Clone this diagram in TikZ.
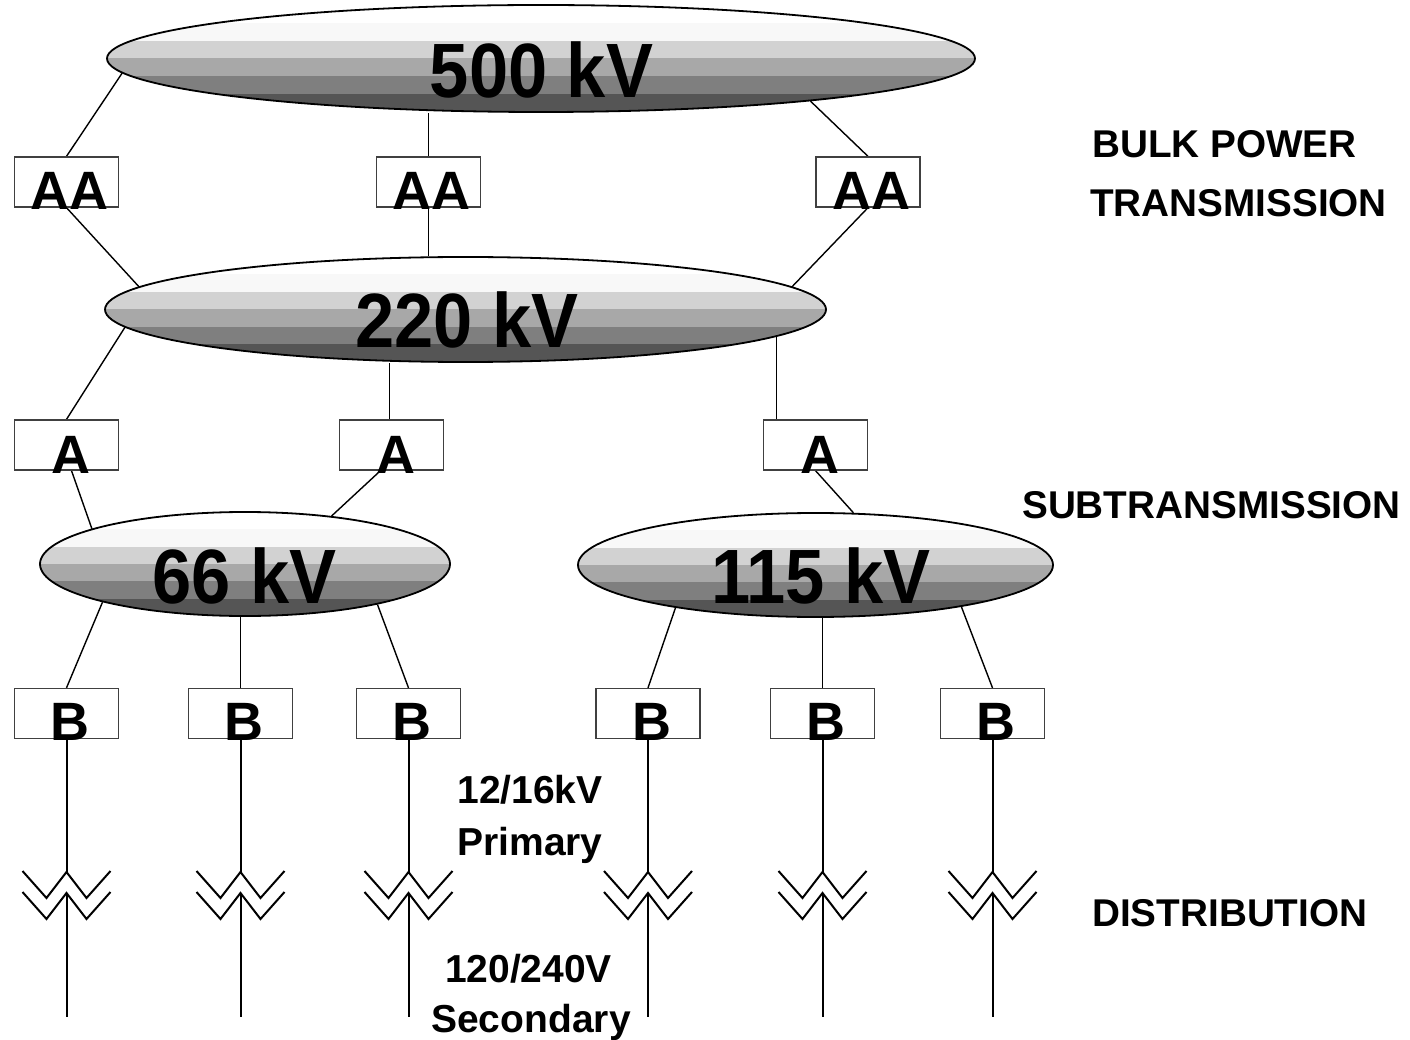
\documentclass[tikz,border=0pt]{standalone}
\usepackage{fontspec}
\setmainfont{Liberation Sans}
\usepackage{graphicx}
\usetikzlibrary{shapes.geometric,calc}
\pgfdeclarelayer{bg}
\pgfsetlayers{bg,main}
\definecolor{gA}{HTML}{F8F8F8}
\definecolor{gB}{HTML}{D2D2D2}
\definecolor{gC}{HTML}{A8A8A8}
\definecolor{gD}{HTML}{7F7F7F}
\definecolor{gE}{HTML}{555555}
\tikzset{
  bus/.style={ellipse, inner sep=0pt, draw=black, line width=1.8pt, fill=white,
    path picture={
      \foreach \c/\a/\b in {white/0/1,gA/1/2,gB/2/3,gC/3/4,gD/4/5,gE/5/6}{
        \fill[\c] ($(path picture bounding box.north west)!\a/6!(path picture bounding box.south west)$)
          rectangle ($(path picture bounding box.north east)!\b/6!(path picture bounding box.south east)$);
      }
    }},
  sub/.style={rectangle, draw=black!75, line width=1.3pt, fill=white,
    minimum width=104pt, minimum height=50pt, inner sep=0pt},
  wire/.style={line width=1.4pt},
  feeder/.style={line width=2pt},
  big/.style={font=\bfseries\fontsize{77}{80}\selectfont, inner sep=0pt, anchor=base},
  tag/.style={font=\bfseries\fontsize{54}{56}\selectfont, inner sep=0pt, anchor=base},
  side/.style={font=\bfseries\fontsize{38.7}{40}\selectfont, inner sep=0pt, anchor=base west},
  volt/.style={font=\bfseries\fontsize{39}{40}\selectfont, inner sep=0pt, anchor=base},
  xfmr/.pic={
    \draw[feeder] (-44,-1) -- (-20,26) -- (0,0) -- (20,26) -- (44,-1);
    \draw[feeder] (-44,20) -- (-20,47) -- (0,21) -- (20,47) -- (44,20);
  }
}
\begin{document}
\begin{tikzpicture}[x=1pt,y=-1pt]
\useasboundingbox (0,0) rectangle (1410,1040);

% buses
\node[bus, minimum width=868pt, minimum height=107pt] (b500) at (541,58.5) {};
\node[bus, minimum width=721pt, minimum height=105pt] (b220) at (465.5,309.5) {};
\node[bus, minimum width=410pt, minimum height=104pt] (b66) at (245,564) {};
\node[bus, minimum width=475pt, minimum height=104pt] (b115) at (815.5,565) {};

\node[big] (l500) at (541.5,98) {\scalebox{0.915}[1]{500 kV}};
\node[big] (l220) at (467,348) {\scalebox{0.915}[1]{220 kV}};
\node[big] (l66) at (244.5,603) {\scalebox{0.915}[1]{66 kV}};
\node[big] (l115) at (821,603) {\scalebox{0.915}[1]{115 kV}};

% substations
\node[sub] (aa1) at (66.5,182) {};
\node[sub] (aa2) at (428.5,182) {};
\node[sub] (aa3) at (868,182) {};
\node[tag] (taa1) at (69.5,210) {AA};
\node[tag] (taa2) at (431.5,210) {AA};
\node[tag] (taa3) at (871,210) {AA};

\node[sub] (a1) at (66.5,445) {};
\node[sub] (a2) at (391.5,445) {};
\node[sub] (a3) at (815.5,445) {};
\node[tag] (ta1) at (70.5,473) {A};
\node[tag] (ta2) at (395.5,473) {A};
\node[tag] (ta3) at (819.5,473) {A};

\node[sub] (s1) at (66.5,713.5) {};
\node[sub] (s2) at (240.5,713.5) {};
\node[sub] (s3) at (408.5,713.5) {};
\node[sub] (s4) at (648,713.5) {};
\node[sub] (s5) at (822.5,713.5) {};
\node[sub] (s6) at (992.5,713.5) {};
\node[tag] (ts1) at (70,740) {B};
\node[tag] (ts2) at (244,740) {B};
\node[tag] (ts3) at (412,740) {B};
\node[tag] (ts4) at (651.5,740) {B};
\node[tag] (ts5) at (826,740) {B};
\node[tag] (ts6) at (996,740) {B};

% connectors
\begin{pgfonlayer}{bg}
\draw[wire] (b500.182.8) -- (aa1.north);
\draw[wire] (aa2.north) -- (aa2.north |- b500.south);
\draw[wire] (b500.351) -- (aa3.north);
\draw[wire] (aa1.south) -- (b220.176.4);
\draw[wire] (aa2.south) -- (aa2.south |- b220.north);
\draw[wire] (aa3.south) -- (b220.4);
\draw[wire] (b220.183.5) -- (a1.north);
\draw[wire] ([xshift=-2pt]a2.north) -- ([xshift=-2pt]a2.north |- b220.south);
\draw[wire] (b220.355.65) -- (b220.355.65 |- a3.north);
\draw[wire] ([xshift=5pt]a1.south) -- (b66.167.8);
\draw[wire] ([xshift=-11pt]a2.south) -- (b66.29.1);
\draw[wire] (a3.south) -- (b115.54.6);
\draw[wire] (b66.195.2) -- (s1.north);
\draw[wire] (s2.north) -- (s2.north |- b66.south);
\draw[wire] (b66.343.2) -- (s3.north);
\draw[wire] (b115.197.5) -- (s4.north);
\draw[wire] (s5.north) -- (s5.north |- b115.south);
\draw[wire] (b115.344.05) -- (s6.north);
\end{pgfonlayer}

% distribution transformers and feeders
\foreach \i in {1,...,6}{
  \coordinate (t\i) at (s\i.south |- 0,872);
  \coordinate (u\i) at (s\i.south |- 0,893);
  \coordinate (e\i) at (s\i.south |- 0,1017);
  \draw[feeder] (s\i.south) -- (t\i);
  \pic at (t\i) {xfmr};
  \draw[feeder] (u\i) -- (e\i);
}

% level labels
\node[side] (bulk1) at (1092,158) {BULK POWER};
\node[side] (bulk2) at (1090,217) {TRANSMISSION};
\node[side] (subt) at (1022,518) {SUBTRANSMISSION};
\node[side] (dist) at (1092,926) {DISTRIBUTION};

\node[volt] (p1) at (530,803) {12/16kV};
\node[volt] (p2) at (530,855) {Primary};
\node[volt] (q1) at (528.5,982) {120/240V};
\node[volt] (q2) at (531,1032) {Secondary};
\end{tikzpicture}
\end{document}
